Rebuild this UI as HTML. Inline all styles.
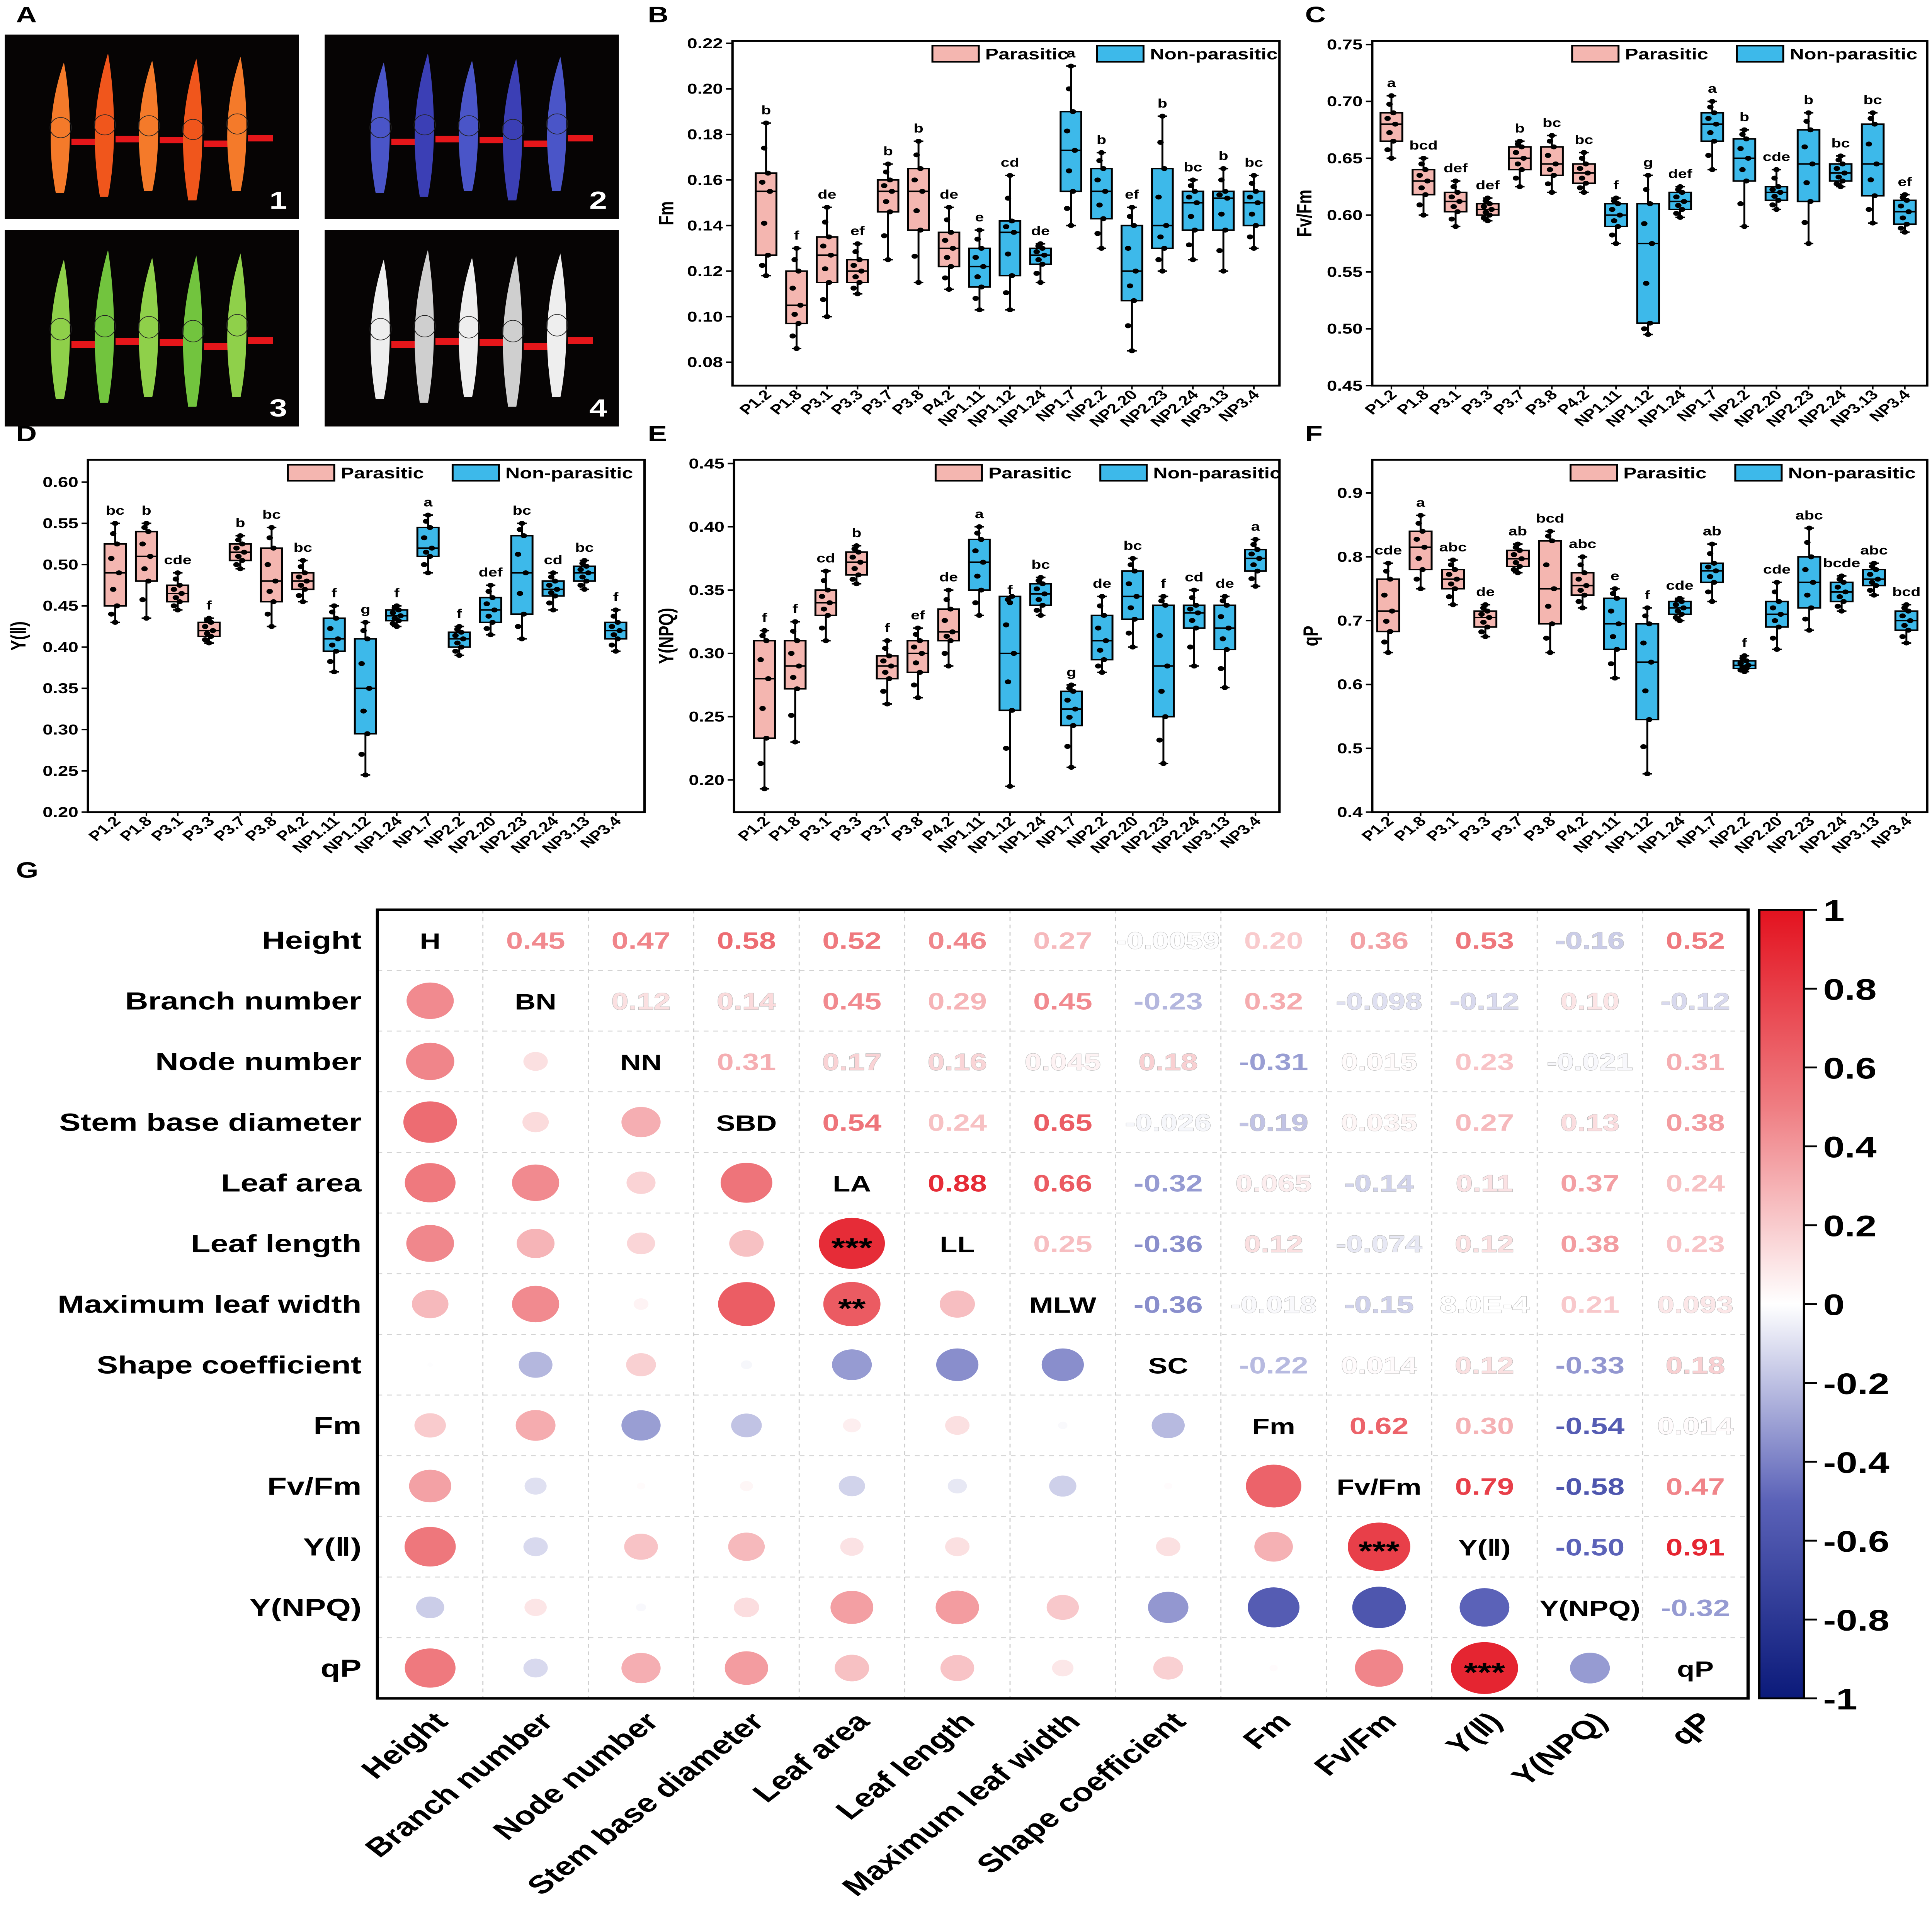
<!DOCTYPE html>
<html><head><meta charset="utf-8"><style>
html,body{margin:0;padding:0;background:#fff;width:100%;height:100%;overflow:hidden}
svg{display:block;position:absolute;left:0;top:0;width:100vw;height:100vh}
text{font-family:"Liberation Sans",Arial,sans-serif}
</style></head><body>
<svg id="fig" xmlns="http://www.w3.org/2000/svg" width="5100" height="6600" viewBox="0 0 1208 1563" preserveAspectRatio="none" overflow="hidden">
<rect x="0" y="0" width="1208" height="1563" fill="#fff"/>
<defs>
<linearGradient id="cbar" x1="0" y1="0" x2="0" y2="1">
<stop offset="0" stop-color="#e3121f"/><stop offset="0.25" stop-color="#ef7d82"/><stop offset="0.5" stop-color="#ffffff"/><stop offset="0.75" stop-color="#5b62b8"/><stop offset="1" stop-color="#0b1a7a"/>
</linearGradient>
</defs>
<g id="panelA"></g>
<g id="boxes"></g>
<g id="matrix"></g>
</svg>
<script>
const NS='http://www.w3.org/2000/svg';
function el(tag,attrs,parent,txt){const e=document.createElementNS(NS,tag);for(const k in attrs)e.setAttribute(k,attrs[k]);if(txt!==undefined)e.textContent=txt;parent.appendChild(e);return e;}

// ---------- data arrays ----------
const categories=['P1.2','P1.8','P3.1','P3.3','P3.7','P3.8','P4.2','NP1.11','NP1.12','NP1.24','NP1.7','NP2.2','NP2.20','NP2.23','NP2.24','NP3.13','NP3.4'];
const groupIsParasitic=[1,1,1,1,1,1,1,0,0,0,0,0,0,0,0,0,0];
// [lowWhisker, q1, median, q3, highWhisker]
const fmStats=[[0.118,0.127,0.155,0.163,0.185],[0.086,0.097,0.105,0.120,0.130],[0.100,0.115,0.127,0.135,0.148],[0.110,0.115,0.120,0.125,0.132],[0.125,0.146,0.155,0.160,0.167],[0.115,0.138,0.155,0.165,0.177],[0.112,0.122,0.130,0.137,0.148],[0.103,0.113,0.122,0.130,0.138],[0.103,0.118,0.137,0.142,0.162],[0.115,0.123,0.127,0.130,0.132],[0.140,0.155,0.173,0.190,0.210],[0.130,0.143,0.155,0.165,0.172],[0.085,0.107,0.120,0.140,0.148],[0.120,0.130,0.140,0.165,0.188],[0.125,0.138,0.150,0.155,0.160],[0.120,0.138,0.152,0.155,0.165],[0.130,0.140,0.150,0.155,0.162]];
const fmLetters=['b','f','de','ef','b','b','de','e','cd','de','a','b','ef','b','bc','b','bc'];
const fvfmStats=[[0.650,0.665,0.680,0.690,0.705],[0.600,0.618,0.630,0.640,0.650],[0.590,0.603,0.612,0.620,0.630],[0.595,0.600,0.605,0.610,0.615],[0.625,0.640,0.650,0.660,0.665],[0.620,0.635,0.645,0.660,0.670],[0.620,0.628,0.637,0.645,0.655],[0.575,0.590,0.600,0.610,0.615],[0.495,0.505,0.575,0.610,0.635],[0.598,0.605,0.612,0.620,0.625],[0.640,0.665,0.680,0.690,0.700],[0.590,0.630,0.650,0.667,0.675],[0.605,0.613,0.620,0.625,0.640],[0.575,0.612,0.645,0.675,0.690],[0.625,0.630,0.637,0.645,0.652],[0.593,0.617,0.645,0.680,0.690],[0.585,0.592,0.603,0.613,0.618]];
const fvfmLetters=['a','bcd','def','def','b','bc','bc','f','g','def','a','b','cde','b','bc','bc','ef'];
const yiiStats=[[0.430,0.450,0.490,0.525,0.550],[0.435,0.480,0.510,0.540,0.550],[0.445,0.455,0.465,0.475,0.490],[0.405,0.413,0.420,0.430,0.435],[0.495,0.505,0.515,0.525,0.535],[0.425,0.455,0.480,0.520,0.545],[0.455,0.470,0.480,0.490,0.505],[0.370,0.395,0.410,0.435,0.450],[0.245,0.295,0.350,0.410,0.430],[0.425,0.432,0.438,0.445,0.450],[0.490,0.510,0.520,0.545,0.560],[0.390,0.400,0.410,0.418,0.425],[0.415,0.430,0.445,0.460,0.475],[0.410,0.440,0.490,0.535,0.550],[0.445,0.462,0.470,0.480,0.490],[0.470,0.480,0.490,0.498,0.505],[0.395,0.410,0.420,0.430,0.445]];
const yiiLetters=['bc','b','cde','f','b','bc','bc','f','g','f','a','f','def','bc','cd','bc','f'];
const ynpqStats=[[0.193,0.233,0.280,0.310,0.318],[0.230,0.272,0.290,0.310,0.325],[0.310,0.330,0.340,0.350,0.365],[0.355,0.362,0.372,0.380,0.385],[0.260,0.280,0.290,0.298,0.310],[0.265,0.285,0.300,0.310,0.320],[0.290,0.310,0.317,0.335,0.350],[0.330,0.350,0.372,0.390,0.400],[0.195,0.255,0.300,0.345,0.340],[0.330,0.338,0.347,0.355,0.360],[0.210,0.243,0.256,0.270,0.275],[0.285,0.295,0.310,0.330,0.345],[0.305,0.327,0.345,0.365,0.375],[0.213,0.250,0.290,0.338,0.345],[0.290,0.320,0.332,0.338,0.350],[0.273,0.303,0.320,0.338,0.345],[0.353,0.365,0.375,0.382,0.390]];
const ynpqLetters=['f','f','cd','b','f','ef','de','a','f','bc','g','de','bc','f','cd','de','a'];
const qpStats=[[0.650,0.683,0.715,0.765,0.790],[0.750,0.780,0.815,0.840,0.865],[0.725,0.750,0.765,0.780,0.795],[0.675,0.690,0.705,0.715,0.725],[0.775,0.785,0.797,0.810,0.820],[0.650,0.695,0.750,0.825,0.840],[0.720,0.740,0.755,0.775,0.800],[0.610,0.655,0.695,0.735,0.750],[0.460,0.545,0.635,0.695,0.720],[0.700,0.710,0.720,0.730,0.735],[0.730,0.760,0.778,0.790,0.820],[0.620,0.625,0.630,0.637,0.645],[0.655,0.690,0.710,0.730,0.760],[0.685,0.720,0.760,0.800,0.845],[0.715,0.730,0.745,0.760,0.770],[0.740,0.755,0.765,0.780,0.790],[0.665,0.685,0.700,0.715,0.725]];
const qpLetters=['cde','a','abc','de','ab','bcd','abc','e','f','cde','ab','f','cde','abc','bcde','abc','bcd'];

const fmTicks=[0.08,0.10,0.12,0.14,0.16,0.18,0.20,0.22];
const fvfmTicks=[0.45,0.50,0.55,0.60,0.65,0.70,0.75];
const yiiTicks=[0.20,0.25,0.30,0.35,0.40,0.45,0.50,0.55,0.60];
const ynpqTicks=[0.20,0.25,0.30,0.35,0.40,0.45];
const qpTicks=[0.4,0.5,0.6,0.7,0.8,0.9];

const corrVars=['Height','Branch number','Node number','Stem base diameter','Leaf area','Leaf length','Maximum leaf width','Shape coefficient','Fm','Fv/Fm','Y(Ⅱ)','Y(NPQ)','qP'];
const corrAbbr=['H','BN','NN','SBD','LA','LL','MLW','SC','Fm','Fv/Fm','Y(Ⅱ)','Y(NPQ)','qP'];
const corrUpperH=[0.45,0.47,0.58,0.52,0.46,0.27,-0.0059,0.20,0.36,0.53,-0.16,0.52];
const corrUpperBN=[0.12,0.14,0.45,0.29,0.45,-0.23,0.32,-0.098,-0.12,0.10,-0.12];
const corrUpperNN=[0.31,0.17,0.16,0.045,0.18,-0.31,0.015,0.23,-0.021,0.31];
const corrUpperSBD=[0.54,0.24,0.65,-0.026,-0.19,0.035,0.27,0.13,0.38];
const corrUpperLA=[0.88,0.66,-0.32,0.065,-0.14,0.11,0.37,0.24];
const corrUpperLL=[0.25,-0.36,0.12,-0.074,0.12,0.38,0.23];
const corrUpperMLW=[-0.36,-0.018,-0.15,0.0008,0.21,0.093];
const corrUpperSC=[-0.22,0.014,0.12,-0.33,0.18];
const corrUpperFm=[0.62,0.30,-0.54,0.014];
const corrUpperFvFm=[0.79,-0.58,0.47];
const corrUpperYII=[-0.50,0.91];
const corrUpperYNPQ=[-0.32];
const corrLabelsText=[['0.45','0.47','0.58','0.52','0.46','0.27','-0.0059','0.20','0.36','0.53','-0.16','0.52'],['0.12','0.14','0.45','0.29','0.45','-0.23','0.32','-0.098','-0.12','0.10','-0.12'],['0.31','0.17','0.16','0.045','0.18','-0.31','0.015','0.23','-0.021','0.31'],['0.54','0.24','0.65','-0.026','-0.19','0.035','0.27','0.13','0.38'],['0.88','0.66','-0.32','0.065','-0.14','0.11','0.37','0.24'],['0.25','-0.36','0.12','-0.074','0.12','0.38','0.23'],['-0.36','-0.018','-0.15','8.0E-4','0.21','0.093'],['-0.22','0.014','0.12','-0.33','0.18'],['0.62','0.30','-0.54','0.014'],['0.79','-0.58','0.47'],['-0.50','0.91'],['-0.32']];
const corrStars=[[5,4,'***'],[6,4,'**'],[10,9,'***'],[12,10,'***']];
const cbarTicks=[1,0.8,0.6,0.4,0.2,0,-0.2,-0.4,-0.6,-0.8,-1];

// ---------- Panel A ----------
(function(){
  const g=document.getElementById('panelA');
  const squares=[{x:3,y:28,w:184,h:149,c:'#f0561c',c2:'#f47a2a',n:'1'},{x:203,y:28,w:184,h:149,c:'#3b3fb5',c2:'#4a55c8',n:'2'},{x:3,y:186,w:184,h:159,c:'#72c43e',c2:'#8fd04a',n:'3'},{x:203,y:186,w:184,h:159,c:'#cfcfcf',c2:'#eeeeee',n:'4'}];
  const lx=[0.19,0.34,0.49,0.64,0.79], tops=[0.15,0.10,0.14,0.13,0.12], bots=[0.86,0.88,0.85,0.90,0.85];
  squares.forEach((s)=>{
    const sg=el('g',{},g);
    
    
    el('rect',{x:s.x,y:s.y,width:s.w,height:s.h,fill:'#060404'},sg);
    lx.forEach((f,i)=>{
      const cx=s.x+f*s.w, t=s.y+tops[i]*s.h, b=s.y+bots[i]*s.h, w=s.w*0.028, m=(t+b)/2;
      el('path',{d:`M${cx+2},${t} C${cx+w*1.2},${m-25} ${cx+w*1.5},${m+20} ${cx+w*0.4},${b} L${cx-w*0.6},${b} C${cx-w*1.5},${m+20} ${cx-w*1.6},${m-15} ${cx+2},${t} Z`,fill:i%2?s.c:s.c2},sg);
      el('ellipse',{cx:cx,cy:m,rx:w*1.3,ry:s.h*0.055,fill:'none',stroke:'#222','stroke-width':0.5},sg);
      el('rect',{x:cx+w*1.3,y:m+s.h*0.06,width:s.w*0.085,height:s.h*0.035,fill:'#e5161a'},sg);
    });
    el('text',{x:s.x+s.w-13,y:s.y+s.h-8,fill:'#fff','font-size':20,'font-weight':'bold','text-anchor':'middle'},sg,s.n);
  });
})();

// ---------- panel letters ----------
const svg=document.getElementById('fig');
[['A',10,18],['B',405,18],['C',816,18],['D',10,357],['E',405,357],['F',816,357],['G',10,710]].forEach(p=>{
  const t=el('text',{x:p[1],y:p[2],'font-size':18,'font-weight':'bold'},svg,p[0]);
  
  
});

// ---------- boxplots ----------
function boxPanel(o){
  const g=el('g',{},document.getElementById('boxes'));
  
  
  const ys=v=>o.py0+(o.py1-o.py0)*(v-o.dTop)/(o.dBot-o.dTop);
  const step=(o.xLast-o.xFirst)/(categories.length-1);
  const xs=i=>o.xFirst+i*step;
  const bw=step*0.68;
  o.ticks.forEach(t=>{
    const y=ys(t);
    el('line',{x1:o.px0-4,x2:o.px0,y1:y,y2:y,stroke:'#000','stroke-width':1.2},g);
    const tl=el('text',{x:o.px0-6,y:y+4,'font-size':11.5,'font-weight':'bold','text-anchor':'end'},g,o.oneDec?t.toFixed(1):t.toFixed(2));
    
    
  });
  const yl=el('text',{x:0,y:0,'font-size':13,'font-weight':'bold','text-anchor':'middle',transform:`translate(${o.ylx},${(o.py0+o.py1)/2}) rotate(-90)`},g,o.ylabel);
  
  
  o.stats.forEach((s,i)=>{
    const x=xs(i), fill=groupIsParasitic[i]?'#f4b6b0':'#3db9ea';
    const bg=el('g',{},g);
    
    
    el('line',{x1:x,x2:x,y1:ys(s[0]),y2:ys(s[4]),stroke:'#000','stroke-width':1.2},bg);
    el('line',{x1:x-3,x2:x+3,y1:ys(s[0]),y2:ys(s[0]),stroke:'#000','stroke-width':1.2},bg);
    el('line',{x1:x-3,x2:x+3,y1:ys(s[4]),y2:ys(s[4]),stroke:'#000','stroke-width':1.2},bg);
    el('rect',{x:x-bw/2,y:ys(s[3]),width:bw,height:ys(s[1])-ys(s[3]),fill:fill,stroke:'#000','stroke-width':1.2},bg);
    el('line',{x1:x-bw/2,x2:x+bw/2,y1:ys(s[2]),y2:ys(s[2]),stroke:'#000','stroke-width':1.2},bg);
    const pts=[s[0],(s[0]+s[1])/2,s[1],(s[1]+s[2])/2,s[2],(s[2]+s[3])/2,s[3],(s[3]+s[4])/2,s[4]];
    const off=[0,-2,1,-1,2,-2,1,-1,0];
    pts.forEach((p,k)=>el('circle',{cx:x+off[k]*1.2,cy:ys(p),r:2,fill:'#000'},bg));
    const lt=el('text',{x:x,y:ys(s[4])-7,'font-size':10,'font-weight':'bold','text-anchor':'middle'},bg,o.letters[i]);
    
    
    const xl=el('text',{x:0,y:0,'font-size':11,'font-weight':'bold','text-anchor':'end',transform:`translate(${x+4},${o.py1+8}) rotate(-45)`},g,categories[i]);
    
    
    el('line',{x1:x,x2:x,y1:o.py1,y2:o.py1+3,stroke:'#000','stroke-width':1},g);
  });
  el('rect',{x:o.px0,y:o.py0,width:o.px1-o.px0,height:o.py1-o.py0,fill:'none',stroke:'#000','stroke-width':1.5},g);
  const lg=el('g',{},g);
  
  
  el('rect',{x:o.lx,y:o.py0+4,width:29,height:13,fill:'#f4b6b0',stroke:'#000','stroke-width':1.2},lg);
  el('text',{x:o.lx+33,y:o.py0+15,'font-size':12.5,'font-weight':'bold'},lg,'Parasitic');
  el('rect',{x:o.lx+103,y:o.py0+4,width:29,height:13,fill:'#3db9ea',stroke:'#000','stroke-width':1.2},lg);
  el('text',{x:o.lx+136,y:o.py0+15,'font-size':12.5,'font-weight':'bold'},lg,'Non-parasitic');
}
boxPanel({name:'panel-b-fm',stats:fmStats,letters:fmLetters,ticks:fmTicks,ylabel:'Fm',ylx:421,px0:458,px1:800,py0:33,py1:312,dTop:0.2211,dBot:0.0697,xFirst:479,xLast:784,lx:583});
boxPanel({name:'panel-c-fvfm',stats:fvfmStats,letters:fvfmLetters,ticks:fvfmTicks,ylabel:'Fv/Fm',ylx:820,px0:858,px1:1205,py0:33,py1:312,dTop:0.7533,dBot:0.45,xFirst:870,xLast:1191,lx:983});
boxPanel({name:'panel-d-yii',stats:yiiStats,letters:yiiLetters,ticks:yiiTicks,ylabel:'Y(Ⅱ)',ylx:16,px0:55,px1:403,py0:372,py1:657,dTop:0.627,dBot:0.20,xFirst:72,xLast:385,lx:180});
boxPanel({name:'panel-e-ynpq',stats:ynpqStats,letters:ynpqLetters,ticks:ynpqTicks,ylabel:'Y(NPQ)',ylx:421,px0:459,px1:800,py0:372,py1:657,dTop:0.4529,dBot:0.1746,xFirst:478,xLast:785,lx:585});
boxPanel({name:'panel-f-qp',stats:qpStats,letters:qpLetters,ticks:qpTicks,oneDec:true,ylabel:'qP',ylx:824,px0:858,px1:1205,py0:372,py1:657,dTop:0.952,dBot:0.4,xFirst:868,xLast:1192,lx:982});

// ---------- correlation matrix ----------
(function(){
  const g=document.getElementById('matrix');
  const uppers=[corrUpperH,corrUpperBN,corrUpperNN,corrUpperSBD,corrUpperLA,corrUpperLL,corrUpperMLW,corrUpperSC,corrUpperFm,corrUpperFvFm,corrUpperYII,corrUpperYNPQ];
  const n=corrVars.length;
  const M=[];for(let i=0;i<n;i++){M.push(new Array(n).fill(1));}
  uppers.forEach((row,i)=>row.forEach((v,k)=>{const j=i+1+k;M[i][j]=v;M[j][i]=v;}));
  const X0=236,Y0=736,X1=1093,Y1=1374,cw=(X1-X0)/n,rh=(Y1-Y0)/n;
  const stops=[[-1,[11,26,122]],[-0.5,[91,98,184]],[0,[255,255,255]],[0.5,[239,125,130]],[1,[227,18,31]]];
  function cmap(v){for(let k=0;k<stops.length-1;k++){const a=stops[k],b=stops[k+1];if(v>=a[0]&&v<=b[0]){const t=(v-a[0])/(b[0]-a[0]);const c=a[1].map((x,q)=>Math.round(x+(b[1][q]-x)*t));return `rgb(${c.join(',')})`;}}return '#fff';}
  for(let k=1;k<n;k++){
    el('line',{x1:X0+k*cw,x2:X0+k*cw,y1:Y0,y2:Y1,stroke:'#cfcfcf','stroke-width':0.7,'stroke-dasharray':'3,3'},g);
    el('line',{x1:X0,x2:X1,y1:Y0+k*rh,y2:Y0+k*rh,stroke:'#cfcfcf','stroke-width':0.7,'stroke-dasharray':'3,3'},g);
  }
  for(let i=0;i<n;i++){
    const cy=Y0+(i+0.5)*rh;
    const rl=el('text',{x:226,y:cy+7,'font-size':20,'font-weight':'bold','text-anchor':'end'},g,corrVars[i]);
    
    
    const cx=X0+(i+0.5)*cw;
    const cl=el('text',{x:0,y:0,'font-size':21,'font-weight':'bold','text-anchor':'end',transform:`translate(${cx+12},${Y1+20}) rotate(-45)`},g,corrVars[i]);
    
    
    for(let j=0;j<n;j++){
      const x=X0+(j+0.5)*cw;
      if(i===j){
        const d=el('text',{x:x,y:cy+7,'font-size':18,'font-weight':'bold','text-anchor':'middle'},g,corrAbbr[i]);
        
        
      } else if(j>i){
        const v=M[i][j];
        const t=el('text',{x:x,y:cy+7,'font-size':19,'font-weight':'bold','text-anchor':'middle',fill:cmap(v),stroke:'#b8b8b8','stroke-width':Math.abs(v)<0.2?0.5:0,'paint-order':'stroke'},g,corrLabelsText[i][j-i-1]);
        
        
      } else {
        const v=M[i][j];
        const c=el('circle',{cx:x,cy:cy,r:22*Math.sqrt(Math.abs(v)),fill:cmap(v)},g);
        
        
      }
    }
  }
  corrStars.forEach(s=>{
    const t=el('text',{x:X0+(s[1]+0.5)*cw,y:Y0+(s[0]+0.5)*rh+11,'font-size':22,'font-weight':'bold','text-anchor':'middle'},g,s[2]);
    
    
  });
  el('rect',{x:X0,y:Y0,width:X1-X0,height:Y1-Y0,fill:'none',stroke:'#000','stroke-width':2},g);
  const cb=el('g',{},g);
  
  
  el('rect',{x:1100,y:Y0,width:28,height:Y1-Y0,fill:'url(#cbar)',stroke:'#000','stroke-width':1.5},cb);
  cbarTicks.forEach(t=>{
    const y=Y0+(1-t)/2*(Y1-Y0);
    el('line',{x1:1128,x2:1136,y1:y,y2:y,stroke:'#000','stroke-width':1.5},cb);
    el('text',{x:1140,y:y+9,'font-size':24,'font-weight':'bold'},cb,String(t));
  });
})();
</script>
</body></html>
